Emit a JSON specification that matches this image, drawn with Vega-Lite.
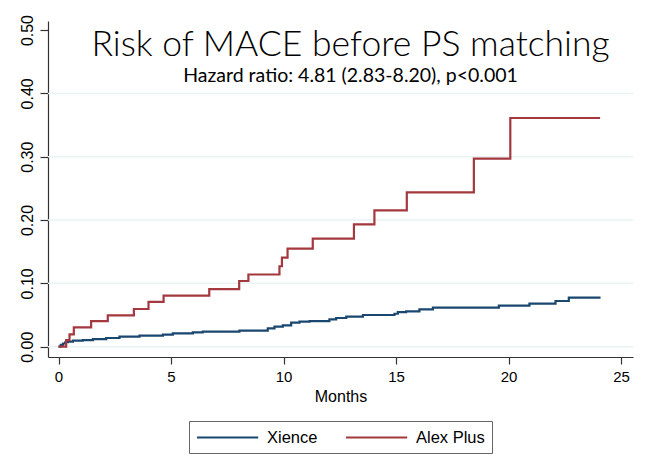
{
  "$schema": "https://vega.github.io/schema/vega-lite/v6.json",
  "width": 585,
  "height": 336,
  "autosize": {"type": "none"},
  "padding": {"left": 48, "top": 21, "right": 17, "bottom": 110},
  "background": "white",
  "title": {
    "text": "Risk of MACE before PS matching",
    "subtitle": "Hazard ratio: 4.81 (2.83-8.20), p<0.001",
    "anchor": "middle",
    "frame": "group",
    "orient": "top",
    "offset": -71,
    "dx": 10,
    "font": "Lato",
    "fontSize": 35.5,
    "fontWeight": 300,
    "color": "#000000",
    "subtitleFont": "Lato",
    "subtitleFontSize": 19.5,
    "subtitleFontWeight": 400,
    "subtitleColor": "#000000",
    "subtitlePadding": 3
  },
  "config": {
    "view": {"stroke": null},
    "axis": {
      "labelFont": "Liberation Sans",
      "titleFont": "Liberation Sans",
      "labelColor": "#000000",
      "titleColor": "#000000",
      "domainColor": "#333333",
      "tickColor": "#333333",
      "domainWidth": 1.2,
      "tickWidth": 1.2,
      "grid": false
    },
    "legend": {
      "labelFont": "Liberation Sans",
      "layout": {"bottom": {"anchor": "middle"}}
    }
  },
  "layer": [
    {
      "data": {"values": [{"g": 0}, {"g": 0.1}, {"g": 0.2}, {"g": 0.3}, {"g": 0.4}]},
      "mark": {"type": "rule", "color": "#eaf2f3", "strokeWidth": 1.5},
      "encoding": {
        "y": {
          "field": "g", "type": "quantitative",
          "scale": {"domain": [-0.0163, 0.5143], "nice": false, "zero": false},
          "axis": {"values": [0, 0.1, 0.2, 0.3, 0.4, 0.5], "format": ".2f", "title": null, "labelAngle": 270, "labelAlign": "center", "labelBaseline": "bottom", "labelFontSize": 16, "tickSize": 8, "labelPadding": 5}
        }
      }
    },
    {
      "data": {"values": [
        {"series": "Xience", "month": 0, "risk": 0},
        {"series": "Xience", "month": 0.1, "risk": 0.003},
        {"series": "Xience", "month": 0.2, "risk": 0.005},
        {"series": "Xience", "month": 0.3, "risk": 0.007},
        {"series": "Xience", "month": 0.42, "risk": 0.008},
        {"series": "Xience", "month": 0.64, "risk": 0.0095},
        {"series": "Xience", "month": 1.08, "risk": 0.0105},
        {"series": "Xience", "month": 1.53, "risk": 0.012},
        {"series": "Xience", "month": 2.12, "risk": 0.0137},
        {"series": "Xience", "month": 2.71, "risk": 0.0158},
        {"series": "Xience", "month": 3.6, "risk": 0.0175},
        {"series": "Xience", "month": 4.64, "risk": 0.019},
        {"series": "Xience", "month": 5.08, "risk": 0.021},
        {"series": "Xience", "month": 5.97, "risk": 0.0226},
        {"series": "Xience", "month": 6.41, "risk": 0.0237},
        {"series": "Xience", "month": 8.04, "risk": 0.0255},
        {"series": "Xience", "month": 9.3, "risk": 0.029},
        {"series": "Xience", "month": 9.6, "risk": 0.0316},
        {"series": "Xience", "month": 9.97, "risk": 0.0337},
        {"series": "Xience", "month": 10.34, "risk": 0.0379},
        {"series": "Xience", "month": 10.71, "risk": 0.0395},
        {"series": "Xience", "month": 11.16, "risk": 0.0405},
        {"series": "Xience", "month": 12.04, "risk": 0.043},
        {"series": "Xience", "month": 12.34, "risk": 0.0453},
        {"series": "Xience", "month": 12.79, "risk": 0.0474},
        {"series": "Xience", "month": 13.53, "risk": 0.05},
        {"series": "Xience", "month": 14.93, "risk": 0.052},
        {"series": "Xience", "month": 15.08, "risk": 0.0547},
        {"series": "Xience", "month": 15.45, "risk": 0.0558},
        {"series": "Xience", "month": 16.04, "risk": 0.059},
        {"series": "Xience", "month": 16.64, "risk": 0.0616},
        {"series": "Xience", "month": 19.57, "risk": 0.0647},
        {"series": "Xience", "month": 20.93, "risk": 0.0679},
        {"series": "Xience", "month": 22.09, "risk": 0.0721},
        {"series": "Xience", "month": 22.68, "risk": 0.0774},
        {"series": "Xience", "month": 24.09, "risk": 0.0774},
        {"series": "Alex Plus", "month": 0, "risk": 0},
        {"series": "Alex Plus", "month": 0.34, "risk": 0.0105},
        {"series": "Alex Plus", "month": 0.49, "risk": 0.0195},
        {"series": "Alex Plus", "month": 0.68, "risk": 0.0306},
        {"series": "Alex Plus", "month": 1.45, "risk": 0.0405},
        {"series": "Alex Plus", "month": 2.19, "risk": 0.0495},
        {"series": "Alex Plus", "month": 3.35, "risk": 0.0595},
        {"series": "Alex Plus", "month": 4.0, "risk": 0.0706},
        {"series": "Alex Plus", "month": 4.67, "risk": 0.0806},
        {"series": "Alex Plus", "month": 6.7, "risk": 0.091},
        {"series": "Alex Plus", "month": 8.03, "risk": 0.1037},
        {"series": "Alex Plus", "month": 8.44, "risk": 0.114},
        {"series": "Alex Plus", "month": 9.82, "risk": 0.127},
        {"series": "Alex Plus", "month": 9.93, "risk": 0.1405},
        {"series": "Alex Plus", "month": 10.18, "risk": 0.1547},
        {"series": "Alex Plus", "month": 11.3, "risk": 0.1705},
        {"series": "Alex Plus", "month": 13.13, "risk": 0.193},
        {"series": "Alex Plus", "month": 14.04, "risk": 0.2154},
        {"series": "Alex Plus", "month": 15.48, "risk": 0.2437},
        {"series": "Alex Plus", "month": 18.46, "risk": 0.2969},
        {"series": "Alex Plus", "month": 20.08, "risk": 0.3611},
        {"series": "Alex Plus", "month": 24.07, "risk": 0.3611}
      ]},
      "mark": {"type": "line", "interpolate": "step-after", "strokeWidth": 2.2},
      "encoding": {
        "x": {
          "field": "month", "type": "quantitative",
          "scale": {"domain": [-0.467, 25.533], "nice": false, "zero": false},
          "axis": {"values": [0, 5, 10, 15, 20, 25], "title": "Months", "labelFontSize": 15, "titleFontSize": 16, "titleFontWeight": "normal", "tickSize": 7, "labelPadding": 5, "titlePadding": 4}
        },
        "y": {
          "field": "risk", "type": "quantitative",
          "scale": {"domain": [-0.0163, 0.5143], "nice": false, "zero": false},
          "axis": {"values": [0, 0.1, 0.2, 0.3, 0.4, 0.5], "format": ".2f", "title": null, "labelAngle": 270, "labelAlign": "center", "labelBaseline": "bottom", "labelFontSize": 16, "tickSize": 8, "labelPadding": 5}
        },
        "color": {
          "field": "series", "type": "nominal",
          "scale": {"domain": ["Xience", "Alex Plus"], "range": ["#1a476f", "#a3393f"]},
          "legend": {
            "orient": "bottom", "direction": "horizontal", "title": null,
            "symbolType": "M-1,0H6.2", "symbolSize": 289, "symbolStrokeWidth": 2,
            "labelFontSize": 16.5, "labelColor": "#000000", "labelOffset": 52,
            "columnPadding": 24, "padding": 7, "strokeColor": "#666666",
            "offset": 17
          }
        },
        "order": {"field": "month", "type": "quantitative"}
      }
    }
  ]
}
